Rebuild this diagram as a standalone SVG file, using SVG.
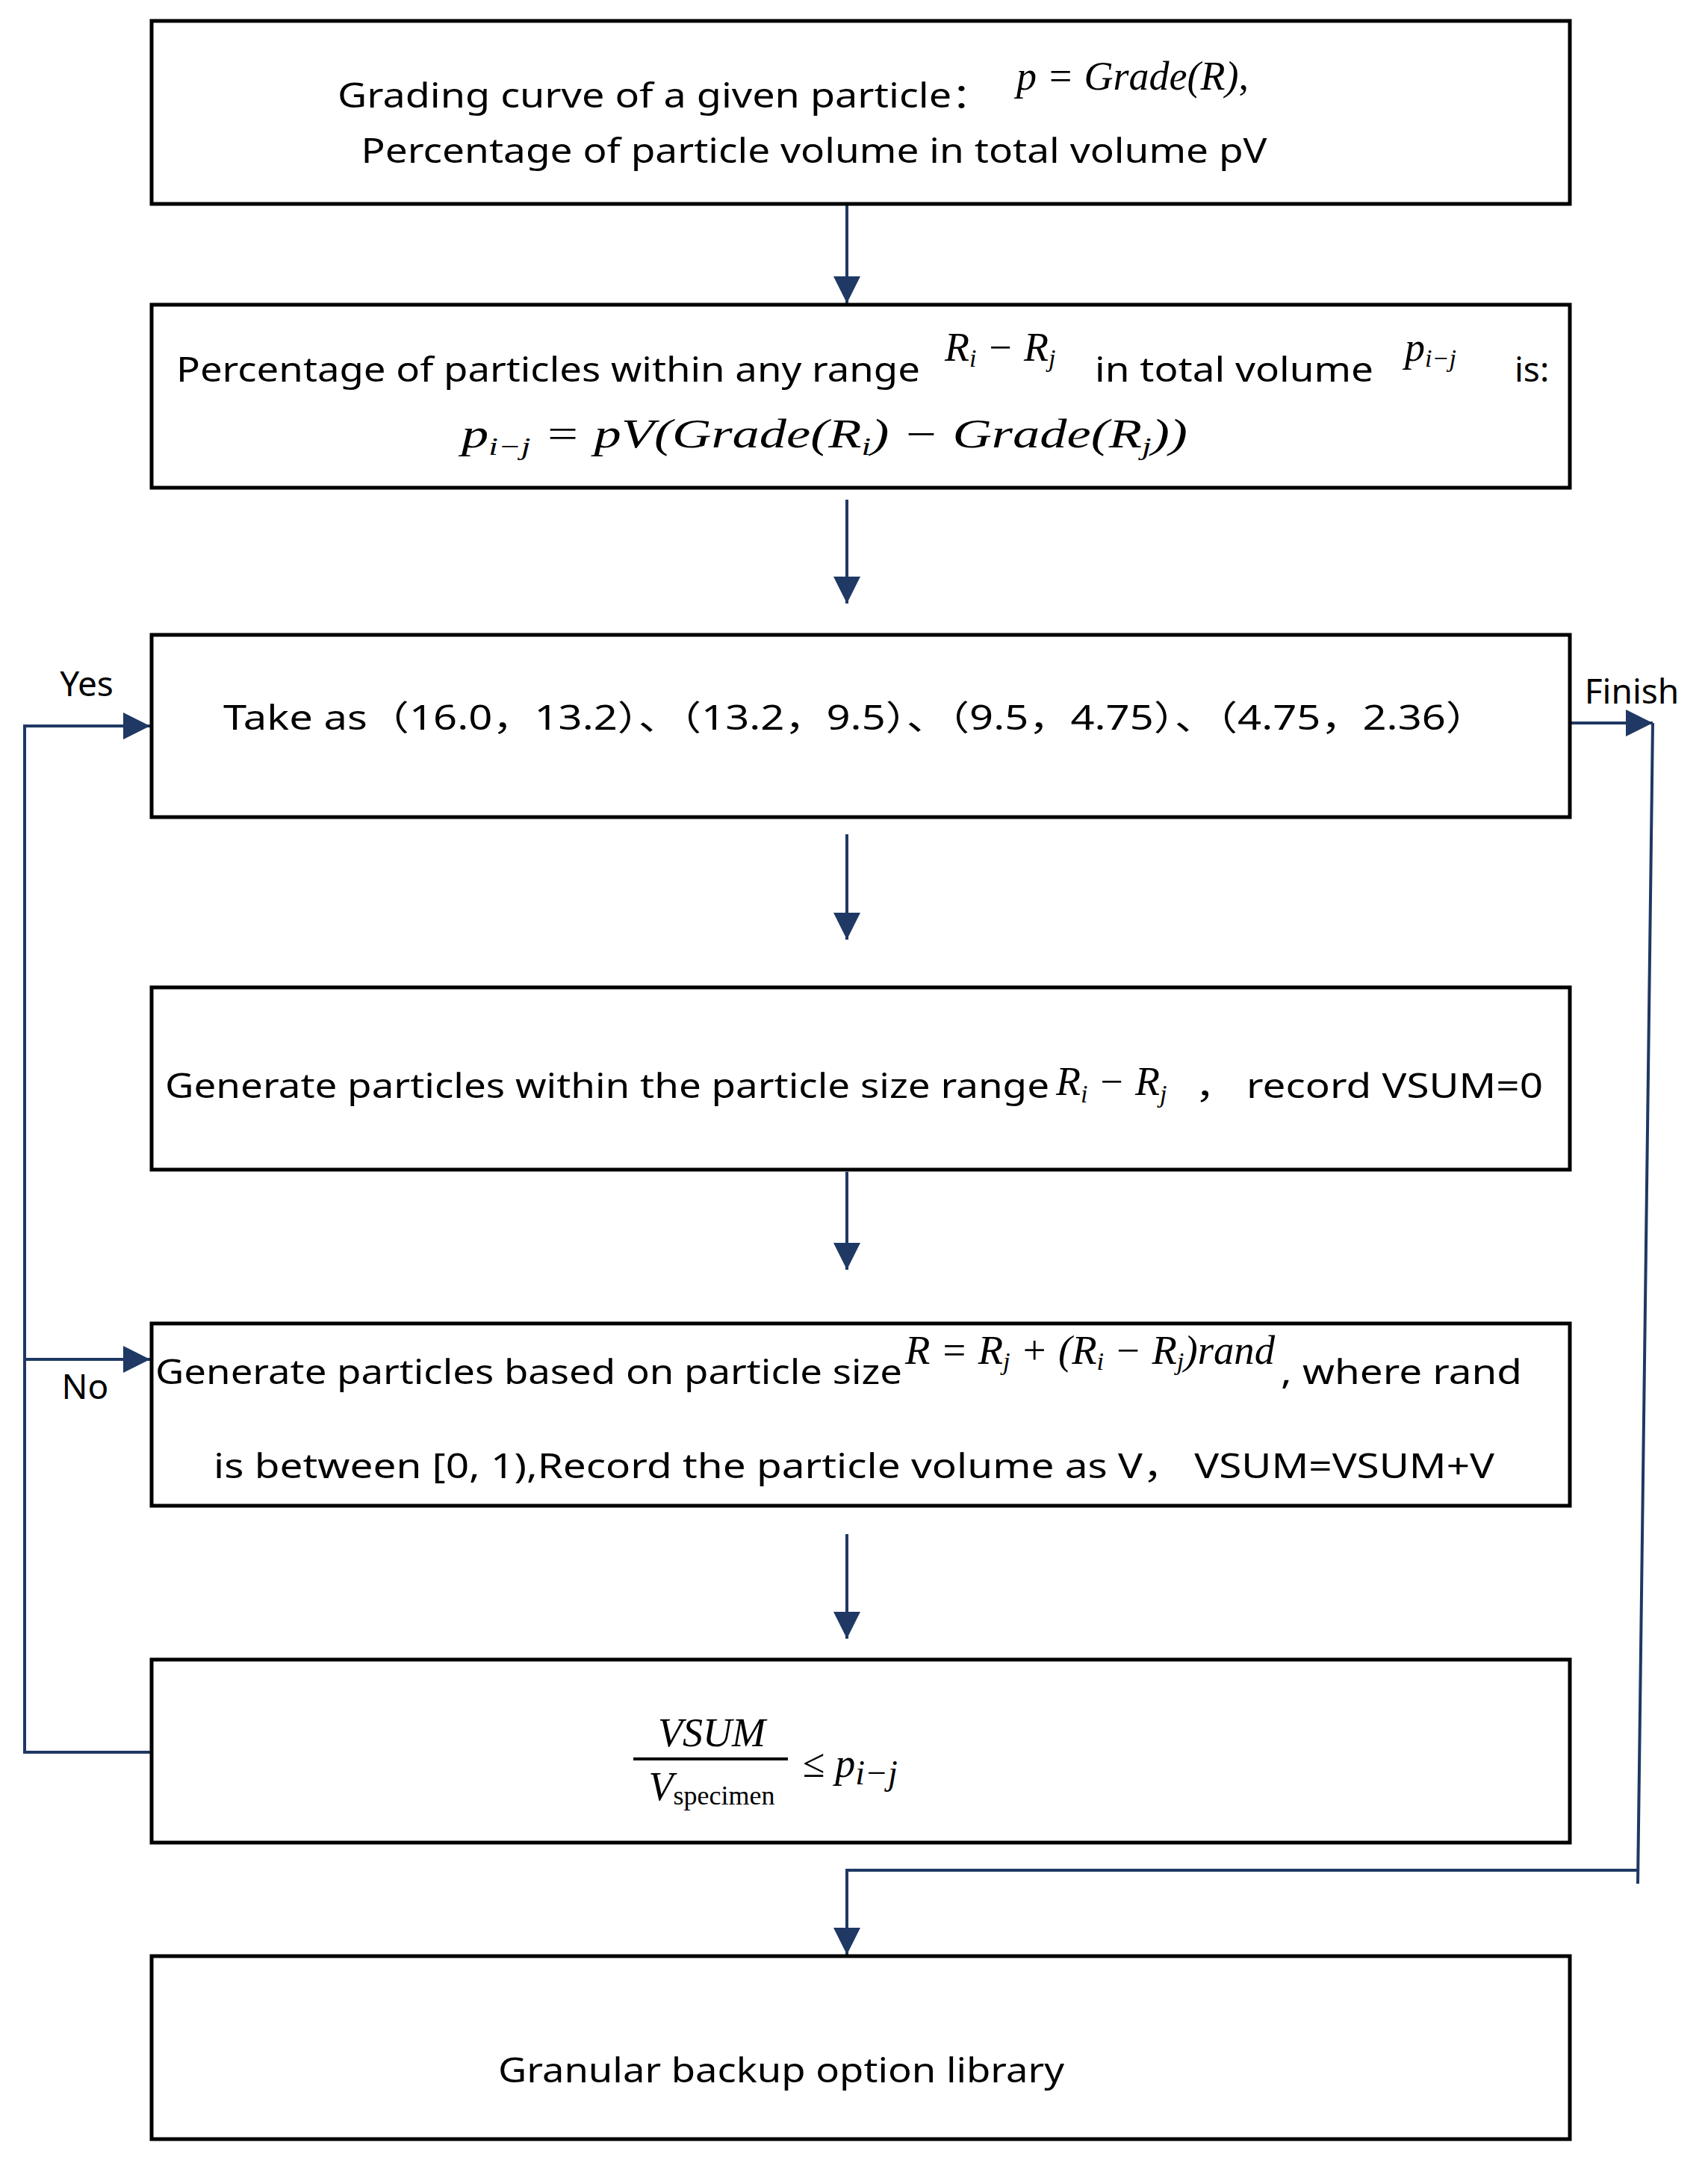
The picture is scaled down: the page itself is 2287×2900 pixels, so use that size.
<svg xmlns="http://www.w3.org/2000/svg" width="2287" height="2900" viewBox="0 0 2287 2900">
<style>
.box{fill:#fff;stroke:#000;stroke-width:5}
.t{font-family:"Noto Sans","Liberation Sans","Noto Sans CJK SC",sans-serif;font-size:46px;fill:#000}
.m{font-family:"Liberation Serif",serif;font-style:italic;font-size:54px;fill:#000}
.s{font-size:34px}
.c{fill:none;stroke:#1f3864;stroke-width:4}
</style>
<defs>
<marker id="ah" viewBox="0 0 10 10" refX="10" refY="5" markerWidth="36" markerHeight="36" orient="auto" markerUnits="userSpaceOnUse">
<path d="M0,0 L10,5 L0,10 Z" fill="#1f3864"/>
</marker>
</defs>
<rect width="2287" height="2900" fill="#fff"/>
<g id="connectors">
<line class="c" x1="1134" y1="273" x2="1134" y2="406" marker-end="url(#ah)"/>
<line class="c" x1="1134" y1="669" x2="1134" y2="808" marker-end="url(#ah)"/>
<line class="c" x1="1134" y1="1117" x2="1134" y2="1258" marker-end="url(#ah)"/>
<line class="c" x1="1134" y1="1569" x2="1134" y2="1700" marker-end="url(#ah)"/>
<line class="c" x1="1134" y1="2054" x2="1134" y2="2194" marker-end="url(#ah)"/>
<polyline class="c" points="2104,968 2213,968" marker-end="url(#ah)"/>
<polyline class="c" points="2213,968 2193,2522"/>
<polyline class="c" points="2193,2504 1134,2504 1134,2617" marker-end="url(#ah)"/>
<polyline class="c" points="203,2346 33,2346 33,972 201,972" marker-end="url(#ah)"/>
<polyline class="c" points="33,1820 201,1820" marker-end="url(#ah)"/>
<text class="t" x="116" y="932" text-anchor="middle">Yes</text>
<text class="t" x="2185" y="942" text-anchor="middle">Finish</text>
<text class="t" x="114" y="1873" text-anchor="middle">No</text>
</g>
<g id="n1">
<rect class="box" x="203" y="28" width="1899" height="245"/>
<text class="t" x="452" y="144" textLength="876" lengthAdjust="spacingAndGlyphs">Grading curve of a given particle：</text>
<text class="m" x="1361" y="120" font-size="58">p = Grade(R)<tspan font-style="normal">,</tspan></text>
<text class="t" x="1090" y="218" text-anchor="middle" textLength="1213" lengthAdjust="spacingAndGlyphs">Percentage of particle volume in total volume pV</text>
</g>
<g id="n2">
<rect class="box" x="203" y="408" width="1899" height="245"/>
<text class="t" x="236" y="511" textLength="996" lengthAdjust="spacingAndGlyphs">Percentage of particles within any range</text>
<text class="m" x="1265" y="483" font-size="58">R<tspan class="s" dy="8">i</tspan><tspan dy="-8"> − R</tspan><tspan class="s" dy="8">j</tspan></text>
<text class="t" x="1466" y="511" textLength="373" lengthAdjust="spacingAndGlyphs">in total volume</text>
<text class="m" x="1881" y="483" font-size="58">p<tspan class="s" dy="8">i−j</tspan></text>
<text class="t" x="2028" y="511">is:</text>
<text class="m" x="618" y="599" font-size="68" textLength="972" lengthAdjust="spacingAndGlyphs">p<tspan class="s" dy="10">i−j</tspan><tspan dy="-10"> = pV(Grade(R</tspan><tspan class="s" dy="10">i</tspan><tspan dy="-10">) − Grade(R</tspan><tspan class="s" dy="10">j</tspan><tspan dy="-10">))</tspan></text>
</g>
<g id="n3">
<rect class="box" x="203" y="850" width="1899" height="244"/>
<text class="t" x="299" y="977" textLength="1693" lengthAdjust="spacingAndGlyphs">Take as（16.0，13.2）、（13.2，9.5）、（9.5，4.75）、（4.75，2.36）</text>
</g>
<g id="n4">
<rect class="box" x="203" y="1322" width="1899" height="244"/>
<text class="t" x="221" y="1470" textLength="1184" lengthAdjust="spacingAndGlyphs">Generate particles within the particle size range</text>
<text class="m" x="1414" y="1466" font-size="62">R<tspan class="s" dy="10">i</tspan><tspan dy="-10"> − R</tspan><tspan class="s" dy="10">j</tspan></text>
<text class="t" x="1600" y="1470" textLength="466" lengthAdjust="spacingAndGlyphs">，  record VSUM=0</text>
</g>
<g id="n5">
<rect class="box" x="203" y="1772" width="1899" height="244"/>
<text class="t" x="208" y="1853" textLength="1000" lengthAdjust="spacingAndGlyphs">Generate particles based on particle size</text>
<text class="m" x="1212" y="1826" font-size="50" textLength="495" lengthAdjust="spacingAndGlyphs">R = R<tspan class="s" dy="8">j</tspan><tspan dy="-8"> + (R</tspan><tspan class="s" dy="8">i</tspan><tspan dy="-8"> − R</tspan><tspan class="s" dy="8">j</tspan><tspan dy="-8">)rand</tspan></text>
<text class="t" x="1715" y="1853" textLength="323" lengthAdjust="spacingAndGlyphs">, where rand</text>
<text class="t" x="286" y="1979" textLength="1715" lengthAdjust="spacingAndGlyphs">is between [0, 1),Record the particle volume as V，    VSUM=VSUM+V</text>
</g>
<g id="n6">
<rect class="box" x="203" y="2222" width="1899" height="245"/>
<text class="m" x="953" y="2338" text-anchor="middle" font-size="38">VSUM</text>
<line x1="848" y1="2355" x2="1055" y2="2355" stroke="#000" stroke-width="4"/>
<text class="m" x="953" y="2410" text-anchor="middle" font-size="40">V<tspan font-style="normal" font-size="36" dy="6">specimen</tspan></text>
<text class="m" x="1075" y="2379" font-size="64"><tspan font-style="normal">≤</tspan> p<tspan font-size="46" dy="10">i−j</tspan></text>
</g>
<g id="n7">
<rect class="box" x="203" y="2619" width="1899" height="245"/>
<text class="t" x="667" y="2788" textLength="758" lengthAdjust="spacingAndGlyphs">Granular backup option library</text>
</g>
</svg>
